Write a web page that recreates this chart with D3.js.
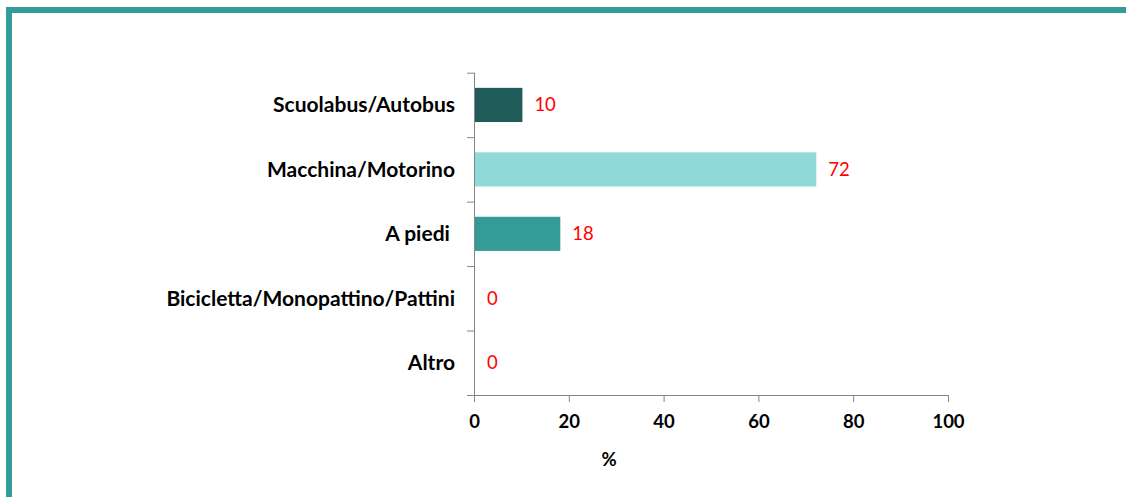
<!DOCTYPE html>
<html>
<head>
<meta charset="utf-8">
<script src="https://cdn.jsdelivr.net/npm/d3@7"></script>
<style>
body { margin: 0; background: #fff; }
svg { display: block; }
</style>
</head>
<body>
<svg id="chart"></svg>
<script>
var categories = ['Scuolabus/Autobus', 'Macchina/Motorino', 'A piedi ', 'Bicicletta/Monopattino/Pattini', 'Altro'];
var values = [10, 72, 18, 0, 0];
var barColors = ['#1F5C5A', '#8FDAD8', '#339C99', '#339C99', '#339C99'];
var xTicks = [0, 20, 40, 60, 80, 100];

var width = 1126, height = 497;
var margin = {top: 72.7, left: 474, right: 178, bottom: 102};
var innerW = width - margin.left - margin.right;
var innerH = height - margin.top - margin.bottom;

var svg = d3.select('#chart').attr('width', width).attr('height', height);

// frame
svg.append('path')
	.attr('d', 'M9,' + height + ' V10 H' + width)
	.attr('fill', 'none')
	.attr('stroke', '#339C99')
	.attr('stroke-width', 6);

var g = svg.append('g')
	.attr('transform', 'translate(' + margin.left + ',' + margin.top + ')');

var x = d3.scaleLinear().domain([0, 100]).range([0, innerW]);
var y = d3.scaleBand().domain(categories).range([0, innerH])
	.paddingInner(0.47).paddingOuter(0.235);
var yEdge = d3.scaleLinear().domain([0, categories.length]).range([0, innerH]);

var font = 'Lato, "Open Sans", sans-serif';

// x axis
var xAxis = g.append('g')
	.attr('transform', 'translate(0,' + innerH + ')')
	.call(d3.axisBottom(x).tickValues(xTicks).tickSize(7).tickSizeOuter(0));
xAxis.select('.domain').attr('d', 'M-7,0.5H' + innerW).attr('stroke', '#868686');
xAxis.selectAll('.tick line').attr('stroke', '#868686');
xAxis.selectAll('.tick text')
	.attr('y', 20)
	.attr('fill', '#000')
	.style('font-family', font)
	.style('font-weight', 'bold')
	.style('font-size', '18.5px');

// y axis
var yAxis = g.append('g')
	.call(d3.axisLeft(yEdge).tickValues(d3.range(categories.length + 1)).tickSize(7).tickFormat(''));
yAxis.select('.domain').attr('stroke', '#868686').attr('d', 'M0.5,0V' + innerH);
yAxis.selectAll('.tick line').attr('stroke', '#868686');

g.append('g').selectAll('text')
	.data(categories)
	.enter().append('text')
	.attr('x', -19)
	.attr('y', function(d) { return y(d) + y.bandwidth() / 2; })
	.attr('dy', '0.35em')
	.attr('text-anchor', 'end')
	.style('white-space', 'pre')
	.style('font-family', font)
	.style('font-weight', 'bold')
	.style('font-size', '21px')
	.text(function(d) { return d; });

// bars
g.selectAll('rect.bar')
	.data(values)
	.enter().append('rect')
	.attr('class', 'bar')
	.attr('x', x(0) + 1)
	.attr('y', function(d, i) { return y(categories[i]); })
	.attr('width', function(d) { return x(d) - x(0); })
	.attr('height', y.bandwidth())
	.attr('fill', function(d, i) { return barColors[i]; });

// value labels
g.selectAll('text.val')
	.data(values)
	.enter().append('text')
	.attr('class', 'val')
	.attr('x', function(d) { return x(d) + 13; })
	.attr('y', function(d, i) { return y(categories[i]) + y.bandwidth() / 2; })
	.attr('dy', '0.35em')
	.attr('fill', '#FF0000')
	.style('font-family', font)
	.style('font-size', '18.5px')
	.text(function(d) { return d; });

// axis title
g.append('text')
	.attr('x', x(28.5))
	.attr('y', innerH + 71)
	.attr('text-anchor', 'middle')
	.style('font-family', font)
	.style('font-weight', 'bold')
	.style('font-size', '18.5px')
	.text('%');
</script>
</body>
</html>
